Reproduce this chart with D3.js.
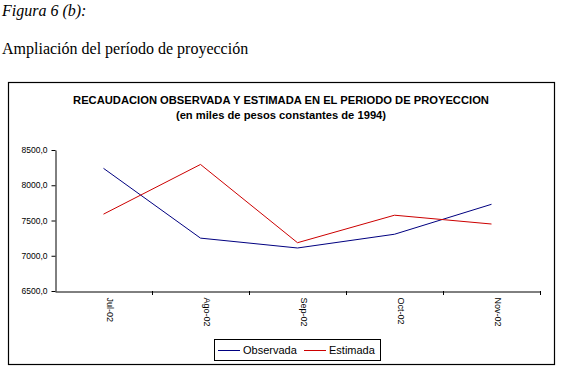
<!DOCTYPE html>
<html><head><meta charset="utf-8">
<script src="https://cdn.jsdelivr.net/npm/d3@7"></script>
<style>body{margin:0;background:#fff;}svg{display:block;}</style>
</head><body>
<script>
const categories = ["Jul-02","Ago-02","Sep-02","Oct-02","Nov-02"];
const observada = [8240, 7250, 7110, 7305, 7730];
const estimada = [7590, 8295, 7185, 7575, 7450];
const yTicks = [6500, 7000, 7500, 8000, 8500];
const seriesNames = ["Observada","Estimada"];
const seriesColors = ["#000080","#cc0000"];

const W = 566, H = 377;
const svg = d3.select("body").append("svg").attr("width", W).attr("height", H);

svg.append("text").attr("x", 2).attr("y", 16)
  .attr("font-family", "Liberation Serif, Times New Roman, serif").attr("font-style", "italic")
  .attr("font-size", 16).text("Figura 6 (b):");
svg.append("text").attr("x", 2).attr("y", 54)
  .attr("font-family", "Liberation Serif, Times New Roman, serif")
  .attr("font-size", 16).text("Ampliación del período de proyección");

// frame
svg.append("rect").attr("x", 8.5).attr("y", 82.5).attr("width", 546).attr("height", 282)
  .attr("fill", "none").attr("stroke", "#000").attr("stroke-width", 1.2);

const tf = "Liberation Sans, Arial, sans-serif";
svg.append("text").attr("x", 281).attr("y", 104).attr("text-anchor", "middle")
  .attr("font-family", tf).attr("font-weight", "bold").attr("font-size", 11.2)
  .text("RECAUDACION OBSERVADA Y ESTIMADA EN EL PERIODO DE PROYECCION");
svg.append("text").attr("x", 281).attr("y", 119).attr("text-anchor", "middle")
  .attr("font-family", tf).attr("font-weight", "bold").attr("font-size", 11.2)
  .text("(en miles de pesos constantes de 1994)");

const x0 = 55, x1 = 540, yTop = 150, yBot = 291;
const x = d3.scaleBand().domain(categories).range([x0, x1]);
const y = d3.scaleLinear().domain([6500, 8500]).range([yBot, yTop]);

const yAxis = svg.append("g").attr("transform", `translate(${x0 + 0.5},0)`)
  .call(d3.axisLeft(y).tickValues(yTicks).tickSize(4).tickSizeOuter(0)
    .tickFormat(d => d3.format(".1f")(d).replace(".", ",")));
yAxis.selectAll("text").attr("font-family", tf).attr("font-size", 8.5).attr("fill", "#000").attr("dx", "-1");
yAxis.selectAll("line,path").attr("stroke", "#000");

const xAxis = svg.append("g").attr("transform", `translate(0,${yBot + 0.5})`)
  .call(d3.axisBottom(x).tickSize(0).tickSizeOuter(0));
xAxis.select("path").attr("stroke", "#000");
xAxis.selectAll("text").attr("font-family", tf).attr("font-size", 9).attr("fill", "#000")
  .attr("text-anchor", "start").attr("dy", null)
  .attr("transform", "translate(3,6) rotate(90)").attr("x", 0).attr("y", 0);
// tick marks between categories
const bounds = categories.map(c => x(c)).slice(1).concat([x1]);
svg.append("g").selectAll("line").data(bounds).join("line")
  .attr("x1", d => Math.round(d) + 0.5).attr("x2", d => Math.round(d) + 0.5)
  .attr("y1", yBot).attr("y2", yBot + 4).attr("stroke", "#000");

const line = d3.line().x((d, i) => x(categories[i]) + x.bandwidth() / 2).y(d => y(d));
[observada, estimada].forEach((s, i) => {
  svg.append("path").datum(s).attr("d", line).attr("fill", "none")
    .attr("stroke", seriesColors[i]).attr("stroke-width", 1);
});

// legend
const lg = svg.append("g");
lg.append("rect").attr("x", 214.5).attr("y", 339.5).attr("width", 166).attr("height", 21)
  .attr("fill", "#fff").attr("stroke", "#000");
const lx = [218, 304];
seriesNames.forEach((n, i) => {
  lg.append("line").attr("x1", lx[i]).attr("x2", lx[i] + 22).attr("y1", 350.5).attr("y2", 350.5)
    .attr("stroke", seriesColors[i]);
  lg.append("text").attr("x", lx[i] + 25).attr("y", 354).attr("font-family", tf)
    .attr("font-size", 11).text(n);
});
</script>
</body></html>
